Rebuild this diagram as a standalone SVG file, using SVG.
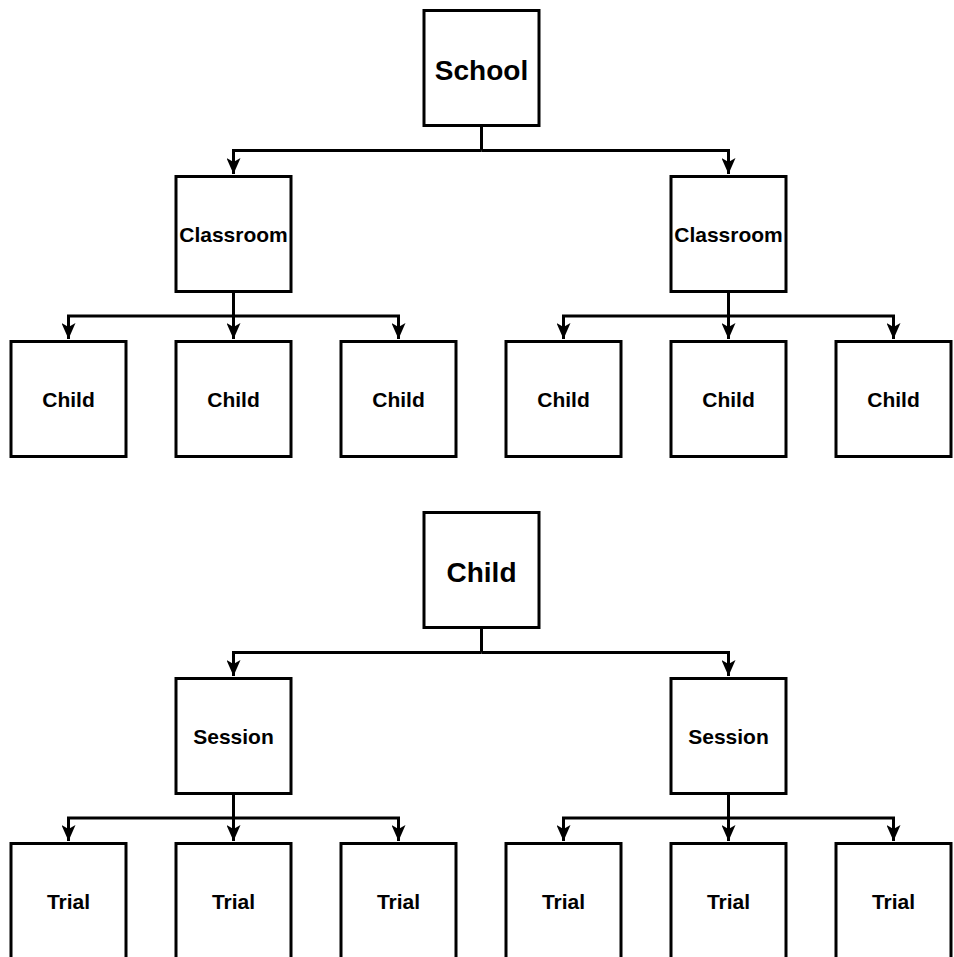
<svg xmlns="http://www.w3.org/2000/svg" width="954" height="957" viewBox="0 0 954 957">
<style>
.box{fill:#fff;stroke:#000;stroke-width:3}
.lbl{font-family:"Liberation Sans",Arial,sans-serif;font-weight:bold;text-anchor:middle;fill:#000}
.big{font-size:28px}
.sm{font-size:21px}
.cn{fill:none;stroke:#000;stroke-width:3}
</style>
<defs>
<marker id="ah" markerUnits="userSpaceOnUse" markerWidth="16" markerHeight="14" viewBox="0 0 16 14" refX="16" refY="7" orient="auto">
<path d="M0,0 L16,7 L0,14 L4,7 z" fill="#000"/>
</marker>
</defs>
<rect width="954" height="957" fill="#fff"/>
<g id="connectors">
<path class="cn" d="M481.5,127 V150.5"/>
<path class="cn" d="M481.5,150.5 H233.5 V174" marker-end="url(#ah)"/>
<path class="cn" d="M481.5,150.5 H728.5 V174" marker-end="url(#ah)"/>
<path class="cn" d="M233.5,293 V316"/>
<path class="cn" d="M233.5,316 H68.5 V339" marker-end="url(#ah)"/>
<path class="cn" d="M233.5,316 V339" marker-end="url(#ah)"/>
<path class="cn" d="M233.5,316 H398.5 V339" marker-end="url(#ah)"/>
<path class="cn" d="M728.5,293 V316"/>
<path class="cn" d="M728.5,316 H563.5 V339" marker-end="url(#ah)"/>
<path class="cn" d="M728.5,316 V339" marker-end="url(#ah)"/>
<path class="cn" d="M728.5,316 H893.5 V339" marker-end="url(#ah)"/>
<path class="cn" d="M481.5,629 V652.5"/>
<path class="cn" d="M481.5,652.5 H233.5 V676" marker-end="url(#ah)"/>
<path class="cn" d="M481.5,652.5 H728.5 V676" marker-end="url(#ah)"/>
<path class="cn" d="M233.5,795 V818"/>
<path class="cn" d="M233.5,818 H68.5 V841" marker-end="url(#ah)"/>
<path class="cn" d="M233.5,818 V841" marker-end="url(#ah)"/>
<path class="cn" d="M233.5,818 H398.5 V841" marker-end="url(#ah)"/>
<path class="cn" d="M728.5,795 V818"/>
<path class="cn" d="M728.5,818 H563.5 V841" marker-end="url(#ah)"/>
<path class="cn" d="M728.5,818 V841" marker-end="url(#ah)"/>
<path class="cn" d="M728.5,818 H893.5 V841" marker-end="url(#ah)"/>
</g>
<g id="school"><rect class="box" x="424" y="10.5" width="115" height="115"/><text class="lbl big" x="481.5" y="80">School</text></g>
<g id="classroom1"><rect class="box" x="176" y="176.5" width="115" height="115"/><text class="lbl sm" x="233.5" y="242">Classroom</text></g>
<g id="classroom2"><rect class="box" x="671" y="176.5" width="115" height="115"/><text class="lbl sm" x="728.5" y="242">Classroom</text></g>
<g id="child1"><rect class="box" x="11" y="341.5" width="115" height="115"/><text class="lbl sm" x="68.5" y="407">Child</text></g>
<g id="child2"><rect class="box" x="176" y="341.5" width="115" height="115"/><text class="lbl sm" x="233.5" y="407">Child</text></g>
<g id="child3"><rect class="box" x="341" y="341.5" width="115" height="115"/><text class="lbl sm" x="398.5" y="407">Child</text></g>
<g id="child4"><rect class="box" x="506" y="341.5" width="115" height="115"/><text class="lbl sm" x="563.5" y="407">Child</text></g>
<g id="child5"><rect class="box" x="671" y="341.5" width="115" height="115"/><text class="lbl sm" x="728.5" y="407">Child</text></g>
<g id="child6"><rect class="box" x="836" y="341.5" width="115" height="115"/><text class="lbl sm" x="893.5" y="407">Child</text></g>
<g id="childroot"><rect class="box" x="424" y="512.5" width="115" height="115"/><text class="lbl big" x="481.5" y="581.5">Child</text></g>
<g id="session1"><rect class="box" x="176" y="678.5" width="115" height="115"/><text class="lbl sm" x="233.5" y="744">Session</text></g>
<g id="session2"><rect class="box" x="671" y="678.5" width="115" height="115"/><text class="lbl sm" x="728.5" y="744">Session</text></g>
<g id="trial1"><rect class="box" x="11" y="843.5" width="115" height="130"/><text class="lbl sm" x="68.5" y="909">Trial</text></g>
<g id="trial2"><rect class="box" x="176" y="843.5" width="115" height="130"/><text class="lbl sm" x="233.5" y="909">Trial</text></g>
<g id="trial3"><rect class="box" x="341" y="843.5" width="115" height="130"/><text class="lbl sm" x="398.5" y="909">Trial</text></g>
<g id="trial4"><rect class="box" x="506" y="843.5" width="115" height="130"/><text class="lbl sm" x="563.5" y="909">Trial</text></g>
<g id="trial5"><rect class="box" x="671" y="843.5" width="115" height="130"/><text class="lbl sm" x="728.5" y="909">Trial</text></g>
<g id="trial6"><rect class="box" x="836" y="843.5" width="115" height="130"/><text class="lbl sm" x="893.5" y="909">Trial</text></g>
</svg>
